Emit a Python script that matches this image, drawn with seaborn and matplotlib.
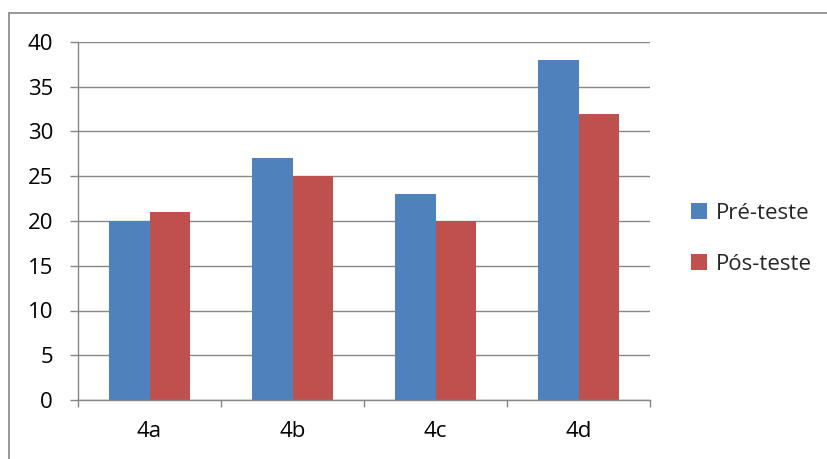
import pandas as pd
import matplotlib.pyplot as plt
import seaborn as sns
from matplotlib.lines import Line2D
from matplotlib.patches import Patch

categories = ['4a', '4b', '4c', '4d']
pre_teste = [20, 27, 23, 38]
pos_teste = [21, 25, 20, 32]
series_names = ['Pré-teste', 'Pós-teste']
colors = ['#4F81BD', '#C0504D']

df = pd.DataFrame({
    'Categoria': categories * 2,
    'Valor': pre_teste + pos_teste,
    'Série': [series_names[0]] * 4 + [series_names[1]] * 4,
})

sns.set_theme(style="white")
plt.rcParams['font.family'] = ['Open Sans', 'DejaVu Sans']

fig = plt.figure(figsize=(8.27, 4.59), dpi=100)
ax = fig.add_axes([78 / 827, 59 / 459, 572 / 827, 358 / 459])

sns.barplot(data=df, x='Categoria', y='Valor', hue='Série', palette=colors,
            width=0.567, saturation=1, linewidth=0, ax=ax, legend=False)

grid_color = '#868686'
ax.set_ylim(0, 40)
ax.set_xlim(-0.5, 3.5)
ax.set_yticks(range(0, 41, 5))
ax.yaxis.grid(True, color=grid_color, linewidth=1)
ax.set_axisbelow(True)
for s in ['top', 'right']:
    ax.spines[s].set_visible(False)
for s in ['left', 'bottom']:
    ax.spines[s].set_color(grid_color)
    ax.spines[s].set_linewidth(1)

ax.set_xlabel('')
ax.set_ylabel('')
ax.tick_params(axis='y', which='major', direction='out', length=6, width=1,
               color=grid_color, pad=12, labelsize=16, labelcolor='black', left=True)
ax.set_xticks([-0.5, 0.5, 1.5, 2.5, 3.5], minor=True)
ax.tick_params(axis='x', which='minor', direction='out', length=5, width=1,
               color=grid_color, bottom=True)
ax.tick_params(axis='x', which='major', length=0, pad=15, labelsize=16,
               labelcolor='black')

handles = [Patch(facecolor=c, edgecolor='none') for c in colors]
fig.legend(handles, series_names, loc='center left',
           bbox_to_anchor=(671 / 827, 1 - 239 / 459), frameon=False,
           fontsize=16, handlelength=0.7, handleheight=0.7,
           handletextpad=0.4, labelspacing=1.35)

# outer chart border (top and left visible)
fig.add_artist(Line2D([9 / 827, 1], [1 - 13 / 459, 1 - 13 / 459],
                      color=grid_color, linewidth=1.2, transform=fig.transFigure))
fig.add_artist(Line2D([9 / 827, 9 / 827], [0, 1 - 13 / 459],
                      color=grid_color, linewidth=1.2, transform=fig.transFigure))

fig.savefig('out.png', dpi=100, facecolor='white')
